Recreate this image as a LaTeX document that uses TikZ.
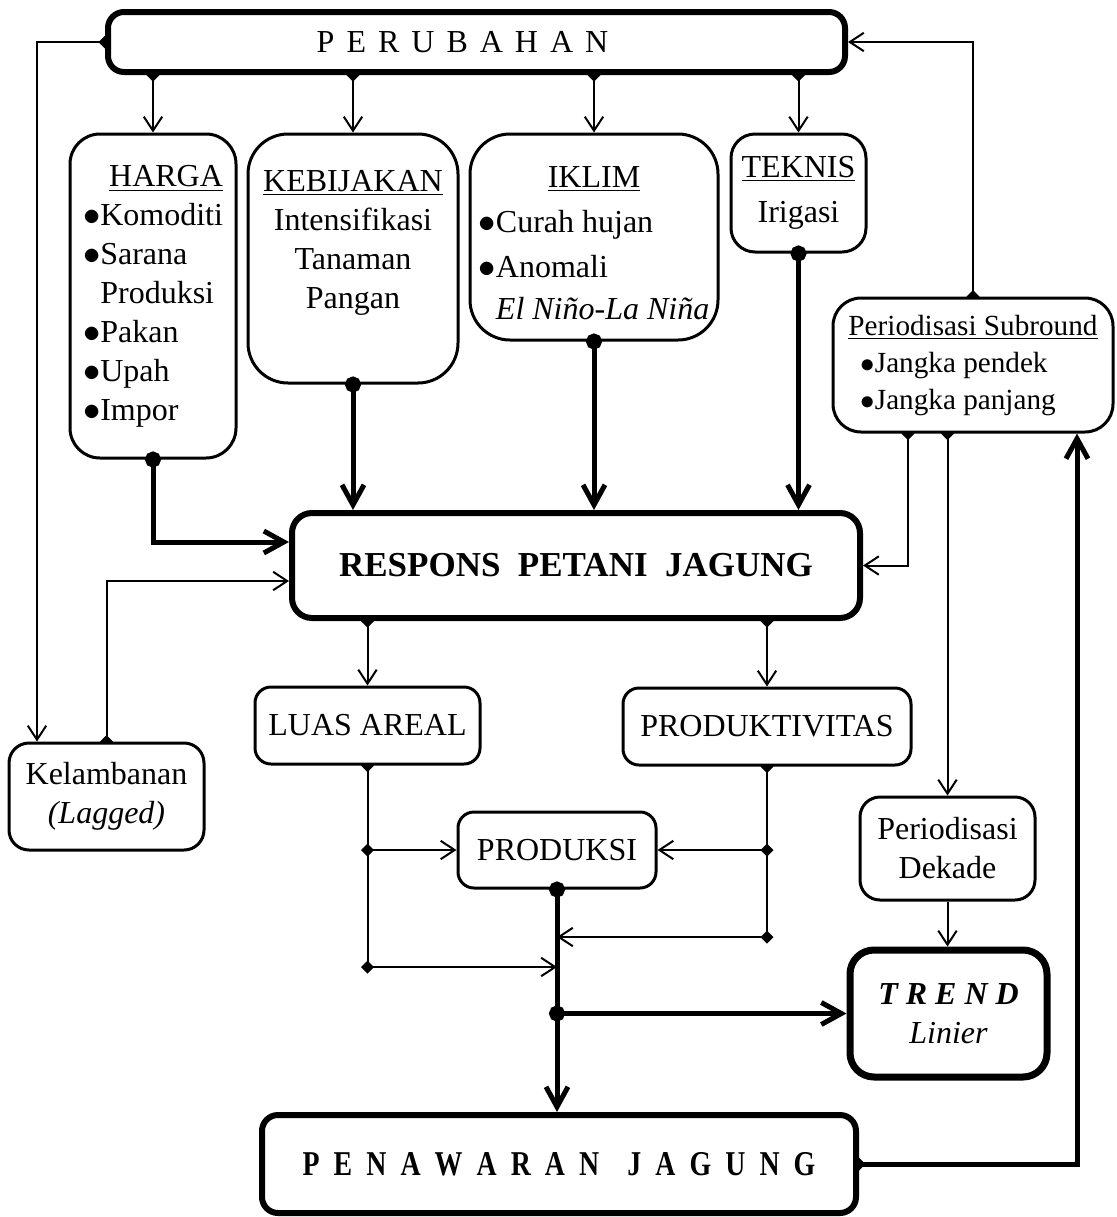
\documentclass[tikz,border=0pt]{standalone}
\usepackage{fontspec}
\usepackage{graphicx}
\setmainfont{Liberation Serif}
\usetikzlibrary{arrows.meta,backgrounds}

\tikzset{
  kotak/.style={draw, fill=white, line width=1.5pt, rounded corners=12pt,
    align=center, inner sep=0pt, font=\fontsize{16}{19.5}\selectfont},
  kotaktebal/.style={kotak, line width=3pt, rounded corners=8pt},
  garis/.style={line width=1pt},
  garistebal/.style={line width=2.5pt},
  >={Straight Barb[length=5pt 2, width=8pt 1.2]},
  belah/.tip={Diamond[length=6.5pt, width=6.5pt]},
  titik/.tip={Circle[length=8pt]}
}

\begin{document}
\begin{tikzpicture}[x=0.5pt, y=-0.5pt]
\useasboundingbox (0,0) rectangle (1117,1217);

% kotak
\node[kotaktebal, minimum width=368.5pt, minimum height=30pt,
  font={\fontsize{16}{19}\selectfont\spaceskip=6pt}] (perubahan) at (476.5,42) {P E R U B A H A N\hspace{14pt}};

\node[kotak, minimum width=83pt, minimum height=162pt, rounded corners=15pt] (harga) at (153,296)
  {\begin{tabular}{@{}l@{}}
   \multicolumn{1}{@{}r@{}}{\underline{HARGA}}\\
   $\bullet$Komoditi\\ $\bullet$Sarana\\ \phantom{$\bullet$}Produksi\\
   $\bullet$Pakan\\ $\bullet$Upah\\ $\bullet$Impor
   \end{tabular}};
\node[kotak, minimum width=105pt, minimum height=124.5pt, rounded corners=20pt] (kebijakan) at (353,258.5)
  {\underline{KEBIJAKAN}\\ Intensifikasi\\ Tanaman\\ Pangan\\ \mbox{}};
\node[kotak, minimum width=124pt, minimum height=103pt, rounded corners=20pt] (iklim) at (594,237)
  {\begin{tabular}{@{}l@{}}
   \multicolumn{1}{@{}c@{}}{\rule{0pt}{22pt}\underline{IKLIM}}\\[3pt]
   $\bullet$Curah hujan\\[3pt]
   $\bullet$Anomali\\[1.5pt]
   \phantom{$\bullet$}\textit{El Niño-La Niña}
   \end{tabular}};
\node[kotak, minimum width=67.5pt, minimum height=59pt] (teknis) at (798.5,193)
  {\underline{TEKNIS}\\[3pt] Irigasi};
\node[kotak, minimum width=140pt, minimum height=67pt, rounded corners=14pt,
  font=\fontsize{14.6}{18.5}\selectfont] (subround) at (973,365)
  {\begin{tabular}{@{}l@{}}
   \underline{Periodisasi Subround}\\
   \hspace*{6pt}$\bullet$Jangka pendek\\
   \hspace*{6pt}$\bullet$Jangka panjang
   \end{tabular}};

\node[kotaktebal, minimum width=284pt, minimum height=52.5pt, rounded corners=10pt,
  font=\bfseries\fontsize{17.5}{21}\selectfont] (respons) at (576,565.5) {RESPONS\ \ PETANI\ \ JAGUNG};

\node[kotak, minimum width=97.5pt, minimum height=53.5pt, rounded corners=10pt] (kelambanan) at (106.5,796.5)
  {Kelambanan\\ \textit{(Lagged)}};
\node[kotak, minimum width=112.5pt, minimum height=38.5pt, rounded corners=8pt] (luas) at (367.5,725.5) {LUAS AREAL};
\node[kotak, minimum width=144pt, minimum height=38.5pt, rounded corners=8pt] (produktivitas) at (767,726.5) {PRODUKTIVITAS};
\node[kotak, minimum width=99pt, minimum height=38pt, rounded corners=8pt] (produksi) at (557,850) {PRODUKSI};
\node[kotak, minimum width=87.5pt, minimum height=51.5pt, rounded corners=10pt] (dekade) at (947.5,848.5)
  {Periodisasi\\ Dekade};
\node[kotak, line width=3.5pt, minimum width=98.5pt, minimum height=63.5pt] (trend) at (948.5,1013.5)
  {\textbf{\textit{T R E N D}}\\ \textit{Linier}};

\node[kotaktebal, minimum width=297pt, minimum height=49pt,
  font={\bfseries\fontsize{17.4}{21}\selectfont\spaceskip=8.8pt}] (penawaran) at (559,1164)
  {\scalebox{0.8}[1]{P E N A W A R A N\ \ J A G U N G}};

\coordinate (kiri) at (37,0);
\coordinate (kiri1) at (luas.south |- produksi.west);
\coordinate (kiri2) at (luas.south |- 0,967);
\coordinate (kanan1) at (produktivitas.south |- produksi.east);
\coordinate (kanan2) at (produktivitas.south |- 0,937);
\coordinate (batang1) at (produksi.south |- kanan2);
\coordinate (batang2) at (produksi.south |- kiri2);
\coordinate (batang3) at (produksi.south |- trend.west);

% garis tipis di belakang kotak
\begin{scope}[on background layer]
  \foreach \k in {harga,kebijakan,iklim,teknis}
    \draw[garis, belah->] ([yshift=3.25pt]perubahan.south -| \k.north) -- (\k.north);
  \draw[garis, belah->] ([xshift=3.25pt]perubahan.west) -| (kiri |- kelambanan.north);
  \draw[garis, belah->] ([yshift=-3.25pt]subround.north) |- (perubahan.east);
  \draw[garis, belah->] ([yshift=-3.25pt]kelambanan.north) |- ([yshift=-7.75pt]respons.west);
  \draw[garis, belah->] ([xshift=-32.5pt,yshift=3.25pt]subround.south) |- (respons.east);
  \draw[garis, belah->] ([yshift=3.25pt]subround.south -| dekade.north) -- (dekade.north);
  \draw[garis, ->] (dekade.south) -- (dekade.south |- trend.north);

  \draw[garis, belah->] ([yshift=3.25pt]respons.south -| luas.north) -- (luas.north);
  \draw[garis, belah->] ([yshift=3.25pt]respons.south -| produktivitas.north) -- (produktivitas.north);

  \draw[garis, belah-] ([yshift=3.25pt]luas.south) -- (kiri2);
  \draw[garis, belah->] ([xshift=-3.25pt]kiri1) -- (produksi.west);
  \draw[garis, belah->] ([xshift=-3.25pt]kiri2) -- (batang2);
  \draw[garis, belah-] ([yshift=3.25pt]produktivitas.south) -- (kanan2);
  \draw[garis, belah->] ([xshift=3.25pt]kanan1) -- (produksi.east);
  \draw[garis, belah->] ([xshift=3.25pt]kanan2) -- (batang1);

  \draw[garistebal, belah->] ([xshift=-3.25pt]penawaran.east) -| ([xshift=52pt]subround.south);
\end{scope}

% garis tebal
\draw[garistebal, titik->] ([yshift=4pt]harga.south) |- ([yshift=11.75pt]respons.west);
\foreach \k in {kebijakan,iklim,teknis}
  \draw[garistebal, titik->] ([yshift=4pt]\k.south) -- (\k.south |- respons.north);
\draw[garistebal, titik->] ([yshift=4pt]produksi.south) -- (produksi.south |- penawaran.north);
\draw[garistebal, titik->] ([xshift=-4pt]batang3) -- (trend.west);
\end{tikzpicture}
\end{document}
